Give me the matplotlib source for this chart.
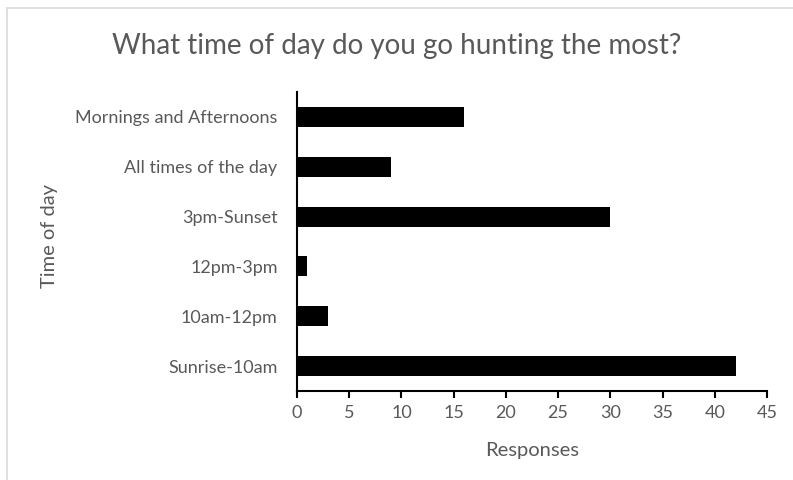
import numpy as np
import matplotlib.pyplot as plt
from matplotlib.patches import Rectangle

categories = ['Sunrise-10am', '10am-12pm', '12pm-3pm', '3pm-Sunset',
              'All times of the day', 'Mornings and Afternoons']
responses = [42, 3, 1, 30, 9, 16]
xticks = [0, 5, 10, 15, 20, 25, 30, 35, 40, 45]

plt.rcParams['font.family'] = ['Lato', 'DejaVu Sans']
grey = '#595959'

fig = plt.figure(figsize=(7.93, 4.80), dpi=100)
# light frame like the spreadsheet chart area
fig.patches.append(Rectangle((7 / 793, -0.1), 1.1, (480 - 8) / 480 + 0.1,
                             transform=fig.transFigure, fill=False,
                             edgecolor='#d9d9d9', linewidth=1.2))

ax = fig.add_axes([297 / 793, (480 - 391) / 480, (767 - 297) / 793, (391 - 92) / 480])
y = np.arange(len(categories))
ax.barh(y, responses, height=0.4, color='black')

ax.set_xlim(0, 45)
ax.set_ylim(-0.5, 5.5)
ax.set_xticks(xticks)
ax.set_yticks(y)
ax.set_yticklabels(categories)

for side in ['top', 'right']:
    ax.spines[side].set_visible(False)
ax.spines['left'].set_linewidth(1.5)
ax.spines['bottom'].set_linewidth(1.5)
ax.tick_params(axis='x', direction='out', length=5, width=1.5, pad=5,
               labelsize=13, labelcolor=grey)
ax.tick_params(axis='y', length=0, pad=14, labelsize=13, labelcolor=grey)

ax.set_xlabel('Responses', fontsize=14.5, color=grey, labelpad=15)
ax.set_ylabel('Time of day', fontsize=14.5, color=grey)
ax.yaxis.set_label_coords(-(297 - 58) / 470, 0.52)

fig.text(0.5, (480 - 46) / 480, 'What time of day do you go hunting the most?',
         ha='center', va='center', fontsize=20, color=grey)

plt.savefig('out.png', dpi=100)
